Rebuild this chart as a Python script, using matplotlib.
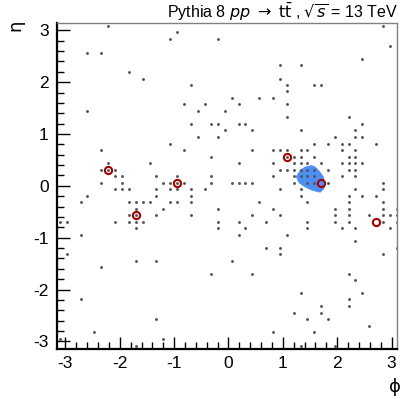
import matplotlib
matplotlib.use("Agg")
import matplotlib.pyplot as plt
from matplotlib.ticker import MultipleLocator

plt.rcParams["font.family"] = ["Liberation Sans", "DejaVu Sans"]
plt.rcParams["mathtext.fontset"] = "dejavusans"
plt.rcParams["axes.unicode_minus"] = False

# Calorimeter cells (ghost/particle positions) grouped by eta row
rows_eta = [3.08, 2.96, 2.83, 2.70, 2.57, 2.45, 2.33, 2.20, 2.07, 1.95, 1.82, 1.69,
            1.57, 1.44, 1.32, 1.19, 1.07, 0.94, 0.81, 0.69, 0.56, 0.44, 0.31, 0.19,
            0.06, -0.06, -0.19, -0.31, -0.44, -0.56, -0.69, -0.81, -0.94, -1.06,
            -1.19, -1.32, -1.44, -1.57, -1.70, -1.82, -2.07, -2.19, -2.32, -2.45,
            -2.57, -2.70, -2.82, -2.95, -3.08]
rows_phi = [
    [-2.21, 2.84],
    [-0.95],
    [-1.07, -0.19],
    [2.97],
    [-2.60, -2.34],
    [2.46],
    [0.94, 1.33],
    [-1.83],
    [-1.58, 0.94],
    [-0.69, 1.07, 1.58, 1.70],
    [1.07],
    [0.06, 0.57, 0.82],
    [-0.82, -0.44, 0.19, 1.07],
    [-2.60, -0.57, -0.06],
    [1.07, 2.21],
    [-0.69, -0.32, -0.19, 0.19, 0.31, 2.46],
    [-0.06, 0.44, 1.33, 2.33],
    [-0.57, -0.19, 1.96, 2.33, 2.46],
    [-1.07, 1.58, 1.83, 2.08, 2.21, 2.71],
    [-2.34, -0.82, 0.44, 0.82, 0.95, 1.07, 1.33, 1.45, 2.08, 2.33],
    [-0.32, 1.07, 1.20, 1.33, 1.58, 2.21, 2.33],
    [-2.21, -1.45, 0.19, 0.82, 1.20, 1.33, 1.45, 1.70, 2.08, 2.21, 2.33, 2.46],
    [-2.34, -2.21, -2.09, 0.95, 1.07, 1.20, 1.33, 1.45, 1.58, 1.83, 2.21, 2.33],
    [-2.09, -1.96, -1.33, -0.95, -0.32, 0.82, 1.20, 1.33, 1.45, 1.58, 2.08, 2.33],
    [-2.34, -1.96, -1.20, -1.07, -0.95, -0.82, -0.32, 0.06, 0.19, 0.31, 0.44,
     1.20, 1.45, 1.58, 1.83, 2.84],
    [-2.09, -1.96, -1.83, -1.33, -1.07, -0.95, -0.69, -0.44, 0.95, 1.33, 2.33, 2.84],
    [-2.60, -1.33, -0.69, 1.33, 2.21, 2.46, 2.71],
    [-2.72, -1.83, -1.71, -1.58, -1.45, -1.07, -0.95, -0.69, 0.57, 1.45, 2.21, 2.84],
    [-1.71, -1.20, -0.19, 0.82, 1.96, 2.21, 2.84, 3.10],
    [-1.83, -1.71, -1.33, -0.69, 0.44, 0.95, 1.96, 2.21, 2.59, 2.84, 2.97, 3.10],
    [-3.10, -2.97, -2.09, -1.83, -1.71, -1.58, -0.19, 0.19, 0.69, 1.45, 1.96, 2.21,
     2.84, 3.10],
    [-1.71, -0.19, 0.31, 1.45, 2.08, 2.33, 2.97],
    [-2.72, 0.19, 1.07],
    [2.33],
    [0.69, 0.95, 3.10],
    [-2.97, 0.95, 2.84],
    [-1.71, -1.33, 0.06],
    [-2.34],
    [-0.32, 0.44, 2.21],
    [2.33],
    [1.33, 2.46],
    [-2.72, 2.21],
    [1.70, 2.21],
    [1.20, 1.70],
    [-1.33, 1.45, 1.83],
    [2.59],
    [-2.47, 0.82, 1.58],
    [-3.10, -1.20],
    [-1.71, 1.33, 1.96],
]

# Selected objects (hollow circles)
sel_phi = [-2.21, -1.71, -0.95, 1.07, 1.70, 2.71]
sel_eta = [0.31, -0.56, 0.06, 0.56, 0.06, -0.69]

# Jet catchment area outline
area_phi = [1.24, 1.32, 1.41, 1.53, 1.60, 1.69, 1.75, 1.78, 1.76, 1.69, 1.60,
            1.51, 1.38, 1.29]
area_eta = [0.18, 0.31, 0.37, 0.40, 0.37, 0.27, 0.18, 0.05, -0.06, -0.13, -0.11,
            -0.08, -0.01, 0.06]

W, H = 400, 399
fig = plt.figure(figsize=(W / 100, H / 100), dpi=100)
ax = fig.add_axes([57 / W, 1 - 349 / H, 340 / W, 326 / H])

ax.fill(area_phi, area_eta, color="#4d8ff5", lw=0, zorder=1)

cell_phi, cell_eta = [], []
for eta, phis in zip(rows_eta, rows_phi):
    for p in phis:
        cell_phi.append(p)
        cell_eta.append(eta)
ax.plot(cell_phi, cell_eta, ls="none", marker="o", ms=2.1, mew=0,
        color="#555555", zorder=2)

ax.plot(sel_phi, sel_eta, ls="none", marker="o", ms=5.2, mew=1.5,
        mfc="none", mec="#a50000", zorder=3)

ax.set_xlim(-3.155, 3.10)
ax.set_ylim(-3.145, 3.14)

ax.xaxis.set_major_locator(MultipleLocator(1))
ax.xaxis.set_minor_locator(MultipleLocator(0.2))
ax.yaxis.set_major_locator(MultipleLocator(1))
ax.yaxis.set_minor_locator(MultipleLocator(0.2))
ax.tick_params(which="both", direction="in", top=False, right=False,
               colors="black", labelsize=12.5, width=1)
ax.tick_params(which="major", length=9)
ax.tick_params(which="minor", length=5)
ax.tick_params(axis="x", pad=5)
ax.tick_params(axis="y", pad=6)

for s in ("left", "bottom"):
    ax.spines[s].set_linewidth(1.6)
    ax.spines[s].set_color("black")
for s in ("top", "right"):
    ax.spines[s].set_linewidth(1.0)
    ax.spines[s].set_color("#808080")

fig.text(15 / W, 1 - 25 / H, "η", rotation=90, ha="center", va="center",
         fontsize=13, family=["DejaVu Sans"])
fig.text(395 / W, 1 - 387 / H, "ϕ", ha="center", va="center", fontsize=13,
         family=["DejaVu Sans"])
fig.text(398 / W, 1 - 12 / H,
         r"Pythia 8 $pp$ $\rightarrow$ $\mathrm{t\bar{t}}$ , $\sqrt{s}$ = 13 TeV",
         ha="right", va="center", fontsize=11.5)

fig.savefig("out.png", dpi=100)
